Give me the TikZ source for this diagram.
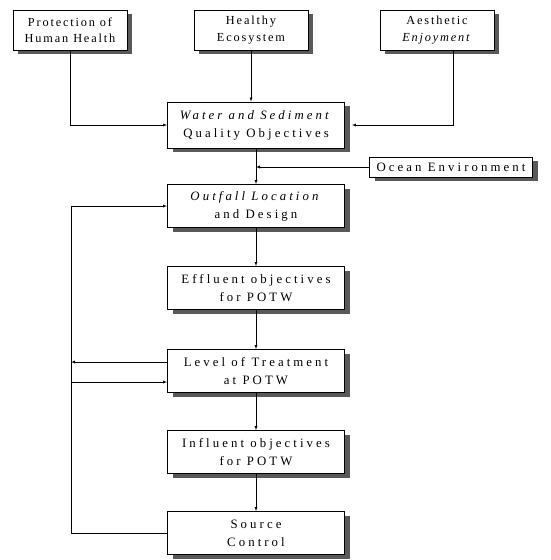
\documentclass[tikz,border=0pt]{standalone}
\usepackage{fontspec}
\setmainfont{Liberation Serif}
\newfontfamily\boxfont{Liberation Serif}[LetterSpace=24]
\newfontfamily\topfont{Liberation Serif}[LetterSpace=15]
\usepackage{tikz}
\usetikzlibrary{shapes,arrows,shadows,positioning}

\begin{document}
\begin{tikzpicture}[x=1pt,y=-1pt,>=latex,
                   box/.style={draw=black,fill=white,thick,align=center,
                     drop shadow={shadow xshift=5pt,shadow yshift=-4pt,fill=black!65,opacity=1},
                     font=\boxfont\fontsize{12.8}{18}\selectfont,minimum width=177,minimum height=43,inner sep=0pt},
                   topbox/.style={box,font=\topfont\fontsize{12.3}{16.5}\selectfont,minimum width=114,minimum height=40}]
\useasboundingbox (0,0) rectangle (550,560);
\node[topbox] (prot) at (70,30) {Protection of\\Human Health};
\node[topbox] (eco) at (251,30) {Healthy\\Ecosystem};
\node[topbox] (aes) at (437,30) {Aesthetic\\\textit{Enjoyment}};
\node[box,minimum height=46] (water) at (256,125) {\textit{Water and Sediment}\\Quality Objectives};
\node[box,minimum width=163,minimum height=20] (ocean) at (451,167) {Ocean Environment};
\node[box] (outfall) at (256,206) {\textit{Outfall Location}\\and Design};
\node[box] (effl) at (256,288) {Effluent objectives\\for POTW};
\node[box] (level) at (256,371) {Level of Treatment\\at POTW};
\node[box] (infl) at (256,452) {Influent objectives\\for POTW};
\node[box] (source) at (256,533) {Source\\Control};
\coordinate (loop) at (71,0);

\draw[->] (prot.south) |- (water.west);
\draw[->] (eco.south) -- (eco.south |- water.north);
\draw[->] ([xshift=16pt]aes.south) |- ([xshift=7pt]water.east);
\draw[->] (water.south) -- (outfall.north);
\draw[->] (ocean.west) -- (ocean.west -| water.south);
\draw[->] (outfall.south) -- (effl.north);
\draw[->] (effl.south) -- (level.north);
\draw[->] (level.south) -- (infl.north);
\draw[->] (infl.south) -- (source.north);
% feedback loop on the left
\draw[->] (source.west) -- (source.west -| loop) -- (outfall.west -| loop) -- (outfall.west);
\draw[->] ([yshift=9pt]level.west) -- ([yshift=9pt]level.west -| loop);
\draw[->] ([yshift=-11pt]level.west -| loop) -- ([yshift=-11pt]level.west);
\end{tikzpicture}
\end{document}
